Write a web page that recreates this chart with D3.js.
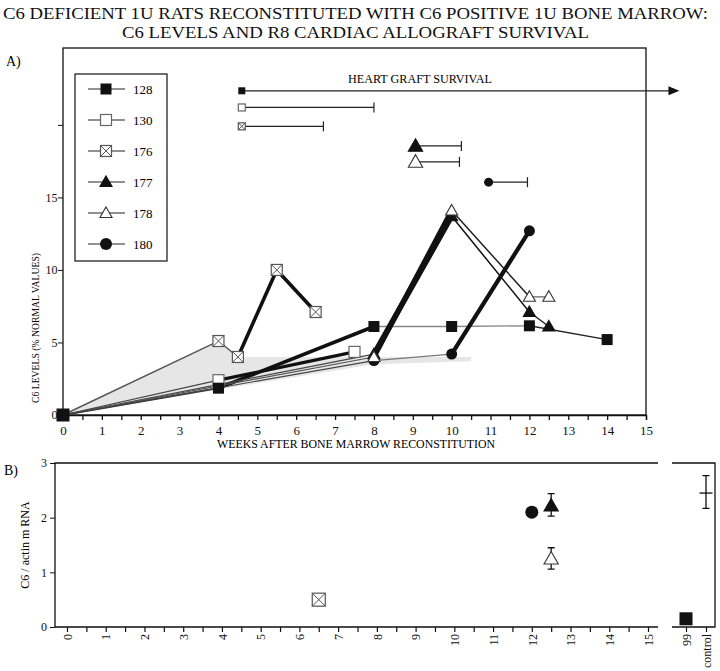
<!DOCTYPE html>
<html><head><meta charset="utf-8">
<script src="https://cdn.jsdelivr.net/npm/d3@7/dist/d3.min.js"></script>
<style>body{margin:0;background:#fff}svg{display:block;font-family:"Liberation Serif","DejaVu Serif",serif}</style>
</head><body><svg id="c" width="720" height="671"></svg>
<script>
// ---------- DATA ----------
const titleLines = ["C6 DEFICIENT 1U RATS RECONSTITUTED WITH C6 POSITIVE 1U BONE MARROW:", "C6 LEVELS AND R8 CARDIAC ALLOGRAFT SURVIVAL"];
const seriesNames = ["128", "130", "176", "177", "178", "180"];
const weeks128 = [0, 4, 8, 10, 12, 14];     const c6_128 = [0, 1.85, 6.1, 6.1, 6.15, 5.2];
const weeks130 = [0, 4, 7.5];               const c6_130 = [0, 2.4, 4.35];
const weeks176 = [0, 4, 4.5, 5.5, 6.5];     const c6_176 = [0, 5.1, 4.0, 10.0, 7.1];
const weeks177 = [0, 8, 10, 12, 12.5];      const c6_177 = [0, 4.2, 13.7, 7.1, 6.1];
const weeks178 = [0, 8, 10, 12, 12.5];      const c6_178 = [0, 4.0, 14.1, 8.15, 8.15];
const weeks180 = [0, 8, 10, 12];            const c6_180 = [0, 3.75, 4.2, 12.7];
// shaded range band
const shadeWeeks = [0, 4, 4.5, 10.5, 10.5, 8, 0];
const shadeC6    = [0, 5.1, 4.0, 4.0, 3.7, 3.5, 0];
// heart graft survival (weeks)
const survStart = [4.6, 4.6, 4.6, 9.07, 9.07, 10.95];
const survEnd   = [15.86, 8.0, 6.7, 10.25, 10.2, 11.95];
const survRow   = [22.35, 21.2, 19.9, 18.55, 17.45, 16.05];
// panel B: C6/actin mRNA
const mrnaNames = ["176", "180", "177", "178"];
const mrnaWeeks = [6.5, 12, 12.5, 12.5];
const mrnaValue = [0.5, 2.1, 2.22, 1.25];
const mrnaLow   = [null, null, 2.03, 1.06];
const mrnaHigh  = [null, null, 2.44, 1.45];
const refCats   = ["99", "control"];
const refValue  = [0.15, 2.45];
const refLow    = [null, 2.17];
const refHigh   = [null, 2.77];
const xTicksA = d3.range(0, 15.01, 0.5);
const xLabelsA = d3.range(0, 16);
const yLabelsA = [0, 5, 10, 15];
const yTicksA = [0, 5, 10, 15, 20];
const yTicksB = [0, 1, 2, 3];

// ---------- STYLE ----------
const segStyle = {
  "128": [[1.8,"#333"],[3.6,"#111"],[1.3,"#888"],[1.3,"#888"],[1.4,"#222"]],
  "130": [[1.2,"#444"],[3.2,"#111"]],
  "176": [[1.4,"#555"],[1.4,"#555"],[3.6,"#111"],[3.6,"#111"]],
  "177": [[1.2,"#444"],[5.5,"#111"],[1.5,"#111"],[1.5,"#222"]],
  "178": [[1.2,"#555"],[5.0,"#111"],[1.5,"#222"],[1.3,"#666"]],
  "180": [[1.2,"#444"],[1.3,"#777"],[4.2,"#111"]]
};
const seriesData = {
  "128": [weeks128, c6_128], "130": [weeks130, c6_130], "176": [weeks176, c6_176],
  "177": [weeks177, c6_177], "178": [weeks178, c6_178], "180": [weeks180, c6_180]
};

const svg = d3.select("#c");
const serif = '"Liberation Serif","DejaVu Serif",serif';

// marker drawing
function marker(g, name, x, y, s) {
  const h = s / 2;
  if (name === "128") {
    g.append("rect").attr("x", x-h).attr("y", y-h).attr("width", s).attr("height", s).attr("fill", "#111");
  } else if (name === "130") {
    g.append("rect").attr("x", x-h).attr("y", y-h).attr("width", s).attr("height", s).attr("fill", "#fff").attr("stroke", "#666").attr("stroke-width", 1.2);
  } else if (name === "176") {
    g.append("rect").attr("x", x-h).attr("y", y-h).attr("width", s).attr("height", s).attr("fill", "#fff").attr("stroke", "#555").attr("stroke-width", 1.2);
    g.append("path").attr("d", `M${x-h},${y-h}L${x+h},${y+h}M${x+h},${y-h}L${x-h},${y+h}`).attr("stroke", "#555").attr("stroke-width", 1);
  } else if (name === "177" || name === "178") {
    const t = s * 0.55;
    g.append("path").attr("d", `M${x},${y-t}L${x+t},${y+t*0.75}L${x-t},${y+t*0.75}Z`)
      .attr("fill", name === "177" ? "#111" : "#fff").attr("stroke", name === "177" ? "#111" : "#333").attr("stroke-width", 1.1);
  } else {
    g.append("circle").attr("cx", x).attr("cy", y).attr("r", h).attr("fill", "#111");
  }
}

// ---------- TITLE ----------
svg.append("text").attr("x", 3).attr("y", 19).attr("font-size", 17).attr("textLength", 705).attr("lengthAdjust", "spacingAndGlyphs").attr("fill", "#111").text(titleLines[0]);
svg.append("text").attr("x", 122).attr("y", 38).attr("font-size", 17).attr("textLength", 467).attr("lengthAdjust", "spacingAndGlyphs").attr("fill", "#111").text(titleLines[1]);

// ---------- PANEL A ----------
const xA = d3.scaleLinear().domain([0, 15]).range([63, 646]);
const yA = d3.scaleLinear().domain([0, 25.3]).range([415, 48]);
const gA = svg.append("g");
svg.append("text").attr("x", 6).attr("y", 66).attr("font-size", 14).text("A)");

// frame
gA.append("rect").attr("x", xA(0)).attr("y", yA(25.3)).attr("width", xA(15)-xA(0)).attr("height", yA(0)-yA(25.3)).attr("fill", "none").attr("stroke", "#111").attr("stroke-width", 1.3);

// x axis
const axA = d3.axisBottom(xA).tickValues(xTicksA).tickSize(5).tickFormat(d => xLabelsA.includes(d) ? d : "");
gA.append("g").attr("transform", `translate(0,${yA(0)})`).call(axA)
  .call(g => { g.select(".domain").attr("stroke", "#111").attr("stroke-width", 1.3);
    g.selectAll("text").attr("font-family", serif).attr("font-size", 13).attr("fill", "#111").attr("dy", "0.9em");
    g.selectAll("line").attr("stroke", "#111").attr("stroke-width", 1.3); });
// y axis
const ayA = d3.axisLeft(yA).tickValues(yTicksA).tickSize(5).tickFormat(d => yLabelsA.includes(d) ? d : "");
gA.append("g").attr("transform", `translate(${xA(0)},0)`).call(ayA)
  .call(g => { g.select(".domain").remove();
    g.selectAll("text").attr("font-family", serif).attr("font-size", 12).attr("fill", "#111").attr("dx", "0.2em");
    g.selectAll("line").attr("stroke", "#111"); });

svg.append("text").attr("x", 356).attr("y", 448).attr("text-anchor", "middle").attr("font-size", 12.5).attr("textLength", 278).attr("lengthAdjust", "spacingAndGlyphs").text("WEEKS AFTER BONE MARROW RECONSTITUTION");
svg.append("text").attr("transform", `translate(39,${yA(6)}) rotate(-90)`).attr("text-anchor", "middle").attr("font-size", 11).attr("textLength", 150).attr("lengthAdjust", "spacingAndGlyphs").text("C6 LEVELS (% NORMAL VALUES)");

// shaded band
gA.append("path").attr("d", d3.line()(shadeWeeks.map((w, i) => [xA(w), yA(shadeC6[i])]))).attr("fill", "#e6e6e6").attr("stroke", "none");

// lines
seriesNames.forEach(n => {
  const [w, v] = seriesData[n];
  for (let i = 0; i < w.length - 1; i++) {
    const st = segStyle[n][i];
    gA.append("line").attr("x1", xA(w[i])).attr("y1", yA(v[i])).attr("x2", xA(w[i+1])).attr("y2", yA(v[i+1]))
      .attr("stroke", st[1]).attr("stroke-width", st[0]).attr("stroke-linecap", "round");
  }
});
// markers (draw in order so filled ones on top)
const markerOrder = ["180", "177", "130", "176", "178", "128"];
markerOrder.forEach(n => {
  const [w, v] = seriesData[n];
  w.forEach((wk, i) => {
    if (wk === 0) return;
    marker(gA, n, xA(wk), yA(v[i]), 11);
  });
});
marker(gA, "128", xA(0), yA(0), 13);

// legend
const lg = gA.append("g");
lg.append("rect").attr("x", 75).attr("y", 74).attr("width", 92).attr("height", 187).attr("fill", "#fff").attr("stroke", "#111").attr("stroke-width", 1.2);
const legY = d3.scalePoint().domain(seriesNames).range([89, 244]);
seriesNames.forEach(n => {
  const y = legY(n);
  lg.append("line").attr("x1", 88).attr("x2", 125).attr("y1", y).attr("y2", y).attr("stroke", "#222").attr("stroke-width", 1.2);
  marker(lg, n, 106, y, n === "180" ? 12 : 11);
  lg.append("text").attr("x", 133).attr("y", y + 4.5).attr("font-size", 13).text(n);
});

// heart graft survival
svg.append("text").attr("x", 348).attr("y", 83).attr("font-size", 12).attr("textLength", 144).attr("lengthAdjust", "spacingAndGlyphs").text("HEART GRAFT SURVIVAL");
seriesNames.forEach((n, i) => {
  const y = yA(survRow[i]);
  const x0 = xA(survStart[i]), x1 = xA(survEnd[i]);
  const g = svg.append("g");
  g.append("line").attr("x1", x0).attr("x2", i === 0 ? x1 - 8 : x1).attr("y1", y).attr("y2", y).attr("stroke", "#222").attr("stroke-width", 1.2);
  if (i === 0) {
    g.append("path").attr("d", `M${x1},${y}L${x1-11},${y-4.5}L${x1-11},${y+4.5}Z`).attr("fill", "#111");
  } else {
    g.append("line").attr("x1", x1).attr("x2", x1).attr("y1", y-5).attr("y2", y+5).attr("stroke", "#222").attr("stroke-width", 1.2);
  }
  const sz = (n === "177" || n === "178") ? 13 : (n === "180" ? 9 : 7);
  marker(g, n, x0, y, sz);
});

// ---------- PANEL B ----------
const xB = d3.scaleLinear().domain([0, 15]).range([67, 648]);
const yB = d3.scaleLinear().domain([0, 3]).range([627, 463]);
const cB = d3.scalePoint().domain(refCats).range([686, 706]);
const gB = svg.append("g");
svg.append("text").attr("x", 4).attr("y", 475).attr("font-size", 14).text("B)");

gB.append("path").attr("d", `M658,${yB(3)}H55V${yB(0)}H658`).attr("fill", "none").attr("stroke", "#111").attr("stroke-width", 1.3);
gB.append("path").attr("d", `M672,${yB(3)}H715V${yB(0)}H672`).attr("fill", "none").attr("stroke", "#111").attr("stroke-width", 1.3);

const ayB = d3.axisLeft(yB).tickValues(yTicksB).tickSize(5).tickFormat(d3.format("d"));
gB.append("g").attr("transform", "translate(55,0)").call(ayB)
  .call(g => { g.select(".domain").remove();
    g.selectAll("text").attr("font-family", serif).attr("font-size", 12).attr("fill", "#111");
    g.selectAll("line").attr("stroke", "#111"); });
const axB = d3.axisBottom(xB).tickValues(xTicksA).tickSize(5).tickFormat(d => xLabelsA.includes(d) ? d : "");
gB.append("g").attr("transform", `translate(0,${yB(0)})`).call(axB)
  .call(g => { g.select(".domain").remove();
    g.selectAll("line").attr("stroke", "#111").attr("stroke-width", 1.2);
    g.selectAll("text").attr("font-family", serif).attr("font-size", 12).attr("fill", "#111")
      .attr("transform", "translate(0,7) rotate(-90)").attr("text-anchor", "end").attr("dy", "0.35em").attr("y", 0).attr("x", 0); });
const acB = d3.axisBottom(cB).tickSize(5);
gB.append("g").attr("transform", `translate(0,${yB(0)})`).call(acB)
  .call(g => { g.select(".domain").remove();
    g.selectAll("line").attr("stroke", "#111").attr("stroke-width", 1.2);
    g.selectAll("text").attr("font-family", serif).attr("font-size", 12).attr("fill", "#111")
      .attr("transform", "translate(0,7) rotate(-90)").attr("text-anchor", "end").attr("dy", "0.35em").attr("y", 0).attr("x", 0); });

svg.append("text").attr("transform", `translate(29,${yB(1.5)}) rotate(-90)`).attr("text-anchor", "middle").attr("font-size", 12).text("C6 /  actin m RNA");

function errBar(g, x, lo, hi, w) {
  g.append("path").attr("d", `M${x},${lo}V${hi}M${x-w},${lo}H${x+w}M${x-w},${hi}H${x+w}`).attr("stroke", "#111").attr("stroke-width", 1.3).attr("fill", "none");
}
mrnaNames.forEach((n, i) => {
  const x = xB(mrnaWeeks[i]);
  if (mrnaLow[i] !== null) errBar(gB, x, yB(mrnaLow[i]), yB(mrnaHigh[i]), 3.5);
  marker(gB, n, x, yB(mrnaValue[i]), 13);
});
// reference column
marker(gB, "128", cB("99"), yB(refValue[0]), 13);
errBar(gB, cB("control"), yB(refLow[1]), yB(refHigh[1]), 3.5);
gB.append("line").attr("x1", cB("control") - 6.5).attr("x2", cB("control") + 6.5).attr("y1", yB(refValue[1])).attr("y2", yB(refValue[1])).attr("stroke", "#111").attr("stroke-width", 1.3);
</script></body></html>
